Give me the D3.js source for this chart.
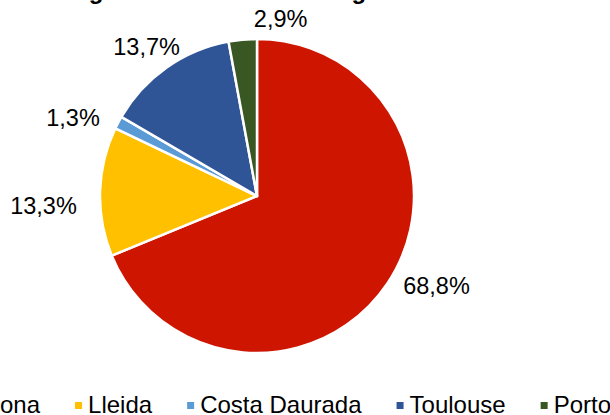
<!DOCTYPE html>
<html lang="es">
<head>
	<meta charset="utf-8">
	<script src="https://cdn.jsdelivr.net/npm/d3@7"></script>
	<style>
		body{ margin:0; background:#fff; }
		text{ font-family:"Liberation Sans", Arial, sans-serif; fill:#000; }
	</style>
</head>
<body>
	<script>
		var categories = ["Barcelona", "Lleida", "Costa Daurada", "Toulouse", "Porto"];
		var values = [68.8, 13.3, 1.3, 13.7, 2.9];
		var labels = ["68,8%", "13,3%", "1,3%", "13,7%", "2,9%"];
		var colors = ["#CD1500", "#FFC000", "#5B9BD5", "#2F5597", "#385723"];
		// small manual nudges, like dragged labels in the original
		var labelShift = [[12, -22], [-11, 16], [-10, 14], [2, 11], [40, 3]];

		var width = 610, height = 415;
		var cx = 257, cy = 196, radius = 157;

		var svg = d3.select("body").append("svg")
			.attr("width", width)
			.attr("height", height);

		// title, cut by the top edge in the reference
		svg.append("text")
			.attr("x", 54)
			.attr("y", -1)
			.style("font-weight", "bold")
			.style("font-size", "24px")
			.text("Origen de los usuarios: región");

		var color = d3.scaleOrdinal().domain(categories).range(colors);

		var pie = d3.pie().sort(null).value(function(d){ return d.value; });
		var arc = d3.arc().innerRadius(0).outerRadius(radius);

		var data = categories.map(function(c, i){
			return {name: c, value: values[i], label: labels[i], shift: labelShift[i]};
		});
		var arcs = pie(data);

		var g = svg.append("g").attr("transform", "translate(" + cx + "," + cy + ")");

		g.selectAll("path")
			.data(arcs)
			.enter()
			.append("path")
			.attr("d", arc)
			.attr("fill", function(d){ return color(d.data.name); })
			.attr("stroke", "#fff")
			.attr("stroke-width", 2.5)
			.attr("stroke-linejoin", "round");

		// labels outside end, pushed out by the text half-extent
		var lab = g.selectAll("text.lab")
			.data(arcs)
			.enter()
			.append("text")
			.attr("class", "lab")
			.attr("text-anchor", "middle")
			.attr("dominant-baseline", "central")
			.style("font-size", "23.5px")
			.text(function(d){ return d.data.label; });

		lab.each(function(d){
			var w = this.getComputedTextLength();
			var a = (d.startAngle + d.endAngle) / 2;
			var s = Math.sin(a), c = Math.cos(a);
			var ext = Math.abs(s) * w / 2 + Math.abs(c) * 9;
			var rr = radius + 12 + ext;
			d3.select(this)
				.attr("x", rr * s + d.data.shift[0])
				.attr("y", -rr * c + d.data.shift[1]);
		});

		// legend
		var legend = svg.append("g").attr("class", "legend");
		var items = legend.selectAll("g")
			.data(categories)
			.enter()
			.append("g");

		items.append("rect")
			.attr("width", 7)
			.attr("height", 7)
			.attr("y", -11)
			.attr("fill", function(d){ return color(d); });

		items.append("text")
			.attr("x", 13)
			.attr("y", 0)
			.style("font-size", "24px")
			.text(function(d){ return d; });

		var gap = 35;
		var xpos = 0, offsets = [];
		items.each(function(){
			offsets.push(xpos);
			var tw = d3.select(this).select("text").node().getComputedTextLength();
			xpos += 13 + tw + gap;
		});
		var total = xpos - gap;
		var startX = 265 - total / 2;
		items.attr("transform", function(d, i){ return "translate(" + (startX + offsets[i]) + ",413)"; });
	</script>
</body>
</html>
